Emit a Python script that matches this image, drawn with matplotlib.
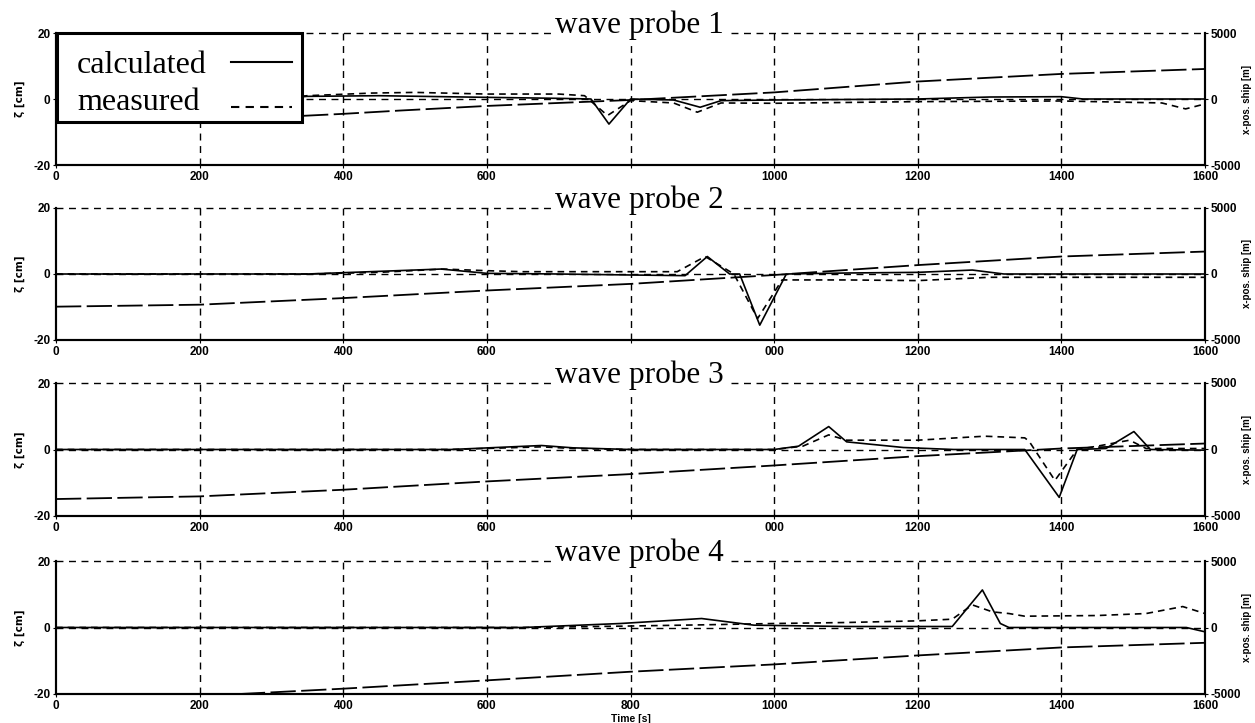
import matplotlib
matplotlib.use("Agg")
import matplotlib.pyplot as plt
from matplotlib.patches import Rectangle

# ---------------- data ----------------
probe_titles = ["wave probe 1", "wave probe 2", "wave probe 3", "wave probe 4"]
legend_labels = ["calculated", "measured"]
x_ticks = [0, 200, 400, 600, 800, 1000, 1200, 1400, 1600]
x_ticklabels = [
    ["0", "200", "400", "600", "", "1000", "1200", "1400", "1600"],
    ["0", "200", "400", "600", "", "000", "1200", "1400", "1600"],
    ["0", "200", "400", "600", "", "000", "1200", "1400", "1600"],
    ["0", "200", "400", "600", "800", "1000", "1200", "1400", "1600"],
]
zeta_ticks = [-20, 0, 20]
ship_ticks = [-5000, 0, 5000]

# probe 1
t_calc1 = [0, 300, 350, 450, 600, 700, 745, 770, 800, 860, 897, 926, 1000, 1200, 1300, 1400, 1430, 1600]
z_calc1 = [0, 0, 0.8, 1.0, 0.5, 0.2, 0, -7.6, 0, -0.3, -2.5, -0.5, -0.3, 0, 0.6, 0.7, 0, 0]
t_meas1 = [0, 300, 350, 440, 500, 600, 700, 736, 768, 800, 860, 893, 926, 1000, 1200, 1400, 1540, 1573, 1600]
z_meas1 = [0, 0, 1.0, 1.8, 2.0, 1.5, 1.5, 1.0, -5.0, -0.5, -1.2, -4.0, -1.2, -1.3, -0.8, -0.6, -1.2, -3.0, -1.5]
t_ship1 = [344, 400, 479, 600, 800, 1000, 1200, 1400, 1600]
x_ship1 = [-1275, -1125, -875, -525, -75, 500, 1325, 1900, 2275]

# probe 2
t_calc2 = [0, 350, 450, 536, 600, 700, 800, 876, 907, 938, 952, 980, 1017, 1100, 1200, 1276, 1320, 1600]
z_calc2 = [0, 0, 0.8, 1.5, 0.2, 0, -0.3, -0.5, 5.3, 0, 0, -15.5, 0, 0.3, 0.5, 1.2, 0, 0]
t_meas2 = [0, 350, 450, 540, 600, 650, 800, 865, 904, 944, 977, 1011, 1100, 1200, 1300, 1400, 1600]
z_meas2 = [0, 0, 0.5, 1.5, 1.0, 0.7, 0.7, 0.7, 5.3, 0, -13.5, -1.8, -1.8, -2.0, -1.0, -1.0, -1.0]
t_ship2 = [0, 200, 400, 600, 800, 1000, 1200, 1400, 1600]
x_ship2 = [-2475, -2325, -1825, -1250, -750, -75, 675, 1325, 1700]

# probe 3
t_calc3 = [0, 550, 676, 720, 800, 1000, 1034, 1076, 1101, 1180, 1250, 1349, 1397, 1422, 1462, 1501, 1524, 1600]
z_calc3 = [0, 0, 1.2, 0.5, 0, 0, 1.0, 6.9, 2.3, 0.6, 0, 0, -14.4, 0, 0.3, 5.4, 0, -0.2]
t_meas3 = [0, 550, 676, 720, 800, 1000, 1040, 1076, 1101, 1200, 1293, 1349, 1355, 1391, 1422, 1450, 1495, 1518, 1600]
z_meas3 = [0, 0, 0.8, 0.3, 0, 0, 1.0, 4.4, 2.8, 2.8, 4.0, 3.5, 2.5, -9.3, 0, 1.0, 2.8, 0.3, 0.3]
t_ship3 = [0, 200, 400, 600, 800, 1000, 1200, 1400, 1600]
x_ship3 = [-3725, -3525, -3025, -2400, -1850, -1200, -500, 75, 450]

# probe 4
t_calc4 = [0, 650, 786, 899, 972, 1100, 1248, 1290, 1315, 1327, 1574, 1600]
z_calc4 = [0, 0, 1.2, 2.7, 0.7, 0.3, 0.3, 11.3, 1.2, 0, 0, -1.3]
t_meas4 = [0, 650, 786, 900, 1000, 1100, 1200, 1248, 1276, 1304, 1327, 1349, 1450, 1518, 1569, 1600]
z_meas4 = [0, 0, 0.4, 0.8, 1.2, 1.5, 2.0, 2.5, 6.8, 4.7, 4.2, 3.4, 3.6, 4.2, 6.3, 4.2]
t_ship4 = [256, 400, 600, 800, 1000, 1200, 1400, 1600]
x_ship4 = [-5000, -4600, -3975, -3325, -2775, -2100, -1500, -1150]

calc = [(t_calc1, z_calc1), (t_calc2, z_calc2), (t_calc3, z_calc3), (t_calc4, z_calc4)]
meas = [(t_meas1, z_meas1), (t_meas2, z_meas2), (t_meas3, z_meas3), (t_meas4, z_meas4)]
ship = [(t_ship1, x_ship1), (t_ship2, x_ship2), (t_ship3, x_ship3), (t_ship4, x_ship4)]

# ---------------- figure ----------------
W, H = 1255, 723
fig = plt.figure(figsize=(W / 100, H / 100), dpi=100)
fig.patch.set_facecolor("white")

panel_px = [(33, 165), (208, 340), (383, 516), (561, 694)]  # top, bottom in pixels
left_px, right_px = 56, 1205

tick_font = dict(family="Liberation Sans", weight="bold", size=8.5)
serif = "Liberation Serif"
meas_ls = (0, (4, 3))

for i in range(4):
    top, bot = panel_px[i]
    ax = fig.add_axes([left_px / W, 1 - bot / H, (right_px - left_px) / W, (bot - top) / H])
    ax2 = ax.twinx()

    ax.set_xlim(0, 1600)
    ax.set_ylim(-20, 20)
    ax2.set_ylim(-5000, 5000)

    # grid (dashed)
    for xv in x_ticks[1:-1]:
        ax.axvline(xv, color="black", lw=1.0, ls=(0, (5, 4)), zorder=1)
    for yv in [0, 20]:
        ax.axhline(yv, color="black", lw=1.0, ls=(0, (5, 4)), zorder=1, clip_on=False)

    tc, zc = calc[i]
    tm, zm = meas[i]
    ts, xs = ship[i]
    ax.plot(tc, zc, color="black", lw=1.2, zorder=3)
    ax.plot(tm, zm, color="black", lw=1.2, ls=meas_ls, zorder=3)
    ax2.plot(ts, xs, color="black", lw=1.3, ls=(0, (14, 3)), zorder=3)

    for a in (ax, ax2):
        a.spines["top"].set_visible(False)
        for s in ("left", "right", "bottom"):
            a.spines[s].set_linewidth(1.5)
    ax.patch.set_visible(False)

    ax.set_xticks(x_ticks)
    ax.set_xticklabels(x_ticklabels[i], fontdict=tick_font)
    ax.set_yticks(zeta_ticks)
    ax.set_yticklabels([str(v) for v in zeta_ticks], fontdict=tick_font)
    ax2.set_yticks(ship_ticks)
    ax2.set_yticklabels([str(v) for v in ship_ticks], fontdict=tick_font)
    ax.tick_params(axis="both", length=2, pad=2)
    ax2.tick_params(axis="y", length=2, pad=2)

    ax.set_ylabel("ζ [cm]", fontdict=dict(family="DejaVu Sans", weight="bold", size=7.5), labelpad=6)
    ax2.set_ylabel("x-pos. ship [m]", fontdict=dict(family="Liberation Sans", weight="bold", size=7),
                   labelpad=1)

    ax2.text(0.508, 1.0, probe_titles[i], transform=ax.transAxes, ha="center", va="baseline",
             fontfamily=serif, fontsize=22.5, zorder=10,
             bbox=dict(facecolor="white", edgecolor="none", pad=2))

    if i == 3:
        ax.set_xlabel("Time [s]", fontdict=dict(family="Liberation Sans", weight="bold", size=7.5), labelpad=2)

    if i == 0:
        # legend box drawn by hand: text on the left, line sample on the right
        ax2.add_patch(Rectangle((0.001, 0.326), 0.213, 0.674, transform=ax.transAxes,
                                facecolor="white", edgecolor="black", lw=2.2, zorder=20,
                                clip_on=False))
        for label, y_txt, y_line, ls in [(legend_labels[0], 0.70, 0.78, "-"),
                                         (legend_labels[1], 0.42, 0.44, meas_ls)]:
            ax2.text(0.0183, y_txt, label, transform=ax.transAxes, ha="left", va="baseline",
                     fontfamily=serif, fontsize=23, zorder=21)
            ax2.plot([0.152, 0.205], [y_line, y_line], transform=ax.transAxes, color="black",
                     lw=1.5, ls=ls, zorder=21, clip_on=False)

fig.savefig("out.png", dpi=100, facecolor="white")
